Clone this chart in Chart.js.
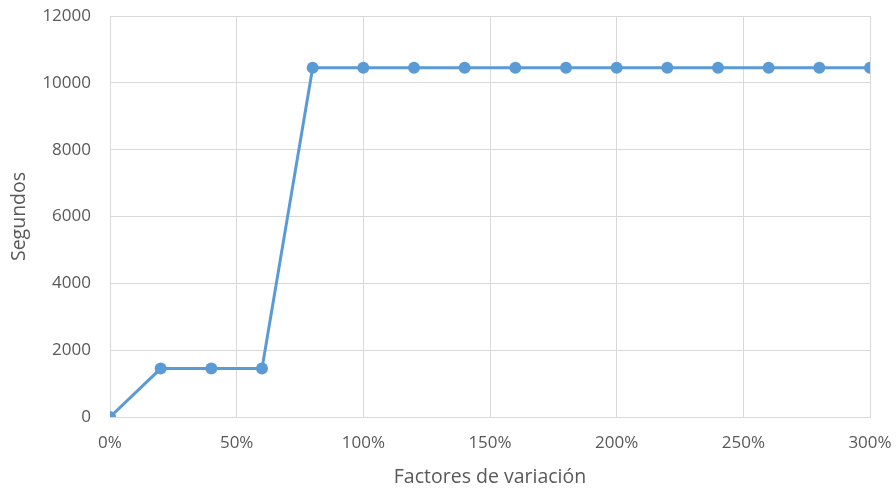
<!DOCTYPE html>
<html>
<head>
<meta charset="utf-8">
<script src="https://cdn.jsdelivr.net/npm/chart.js@4"></script>
<style>
  html, body { margin: 0; padding: 0; background: #ffffff; }
  #wrap { width: 896px; height: 489px; position: relative; }
</style>
</head>
<body>
<div id="wrap"><canvas id="c"></canvas></div>
<script>
// Variation factors (as fractions) and measured time in seconds
const factores = [0, 0.2, 0.4, 0.6, 0.8, 1.0, 1.2, 1.4, 1.6, 1.8, 2.0, 2.2, 2.4, 2.6, 2.8, 3.0];
const segundos = [0, 1450, 1450, 1450, 10450, 10450, 10450, 10450, 10450, 10450, 10450, 10450, 10450, 10450, 10450, 10450];
const yTicks = [0, 2000, 4000, 6000, 8000, 10000, 12000];
const xTicks = [0, 0.5, 1.0, 1.5, 2.0, 2.5, 3.0];

const puntos = factores.map((f, i) => ({ x: f, y: segundos[i] }));
const fontFamily = "'Open Sans', 'Noto Sans', sans-serif";
const grey = '#595959';
const grid = '#d9d9d9';

new Chart(document.getElementById('c'), {
  type: 'line',
  data: {
    datasets: [{
      data: puntos,
      borderColor: '#5b9bd5',
      backgroundColor: '#5b9bd5',
      borderWidth: 3,
      pointRadius: 6,
      pointHoverRadius: 6,
      pointBorderWidth: 0,
      tension: 0
    }]
  },
  options: {
    responsive: true,
    maintainAspectRatio: false,
    animation: false,
    layout: { autoPadding: false, padding: { left: 8, right: 26, top: 16, bottom: 0 } },
    plugins: { legend: { display: false }, tooltip: { enabled: false } },
    scales: {
      x: {
        type: 'linear',
        min: 0,
        max: 3,
        afterBuildTicks: s => { s.ticks = xTicks.map(v => ({ value: v })); },
        ticks: {
          callback: v => Math.round(v * 100) + '%',
          color: grey,
          font: { family: fontFamily, size: 17 },
          padding: 16,
          maxRotation: 0
        },
        grid: { color: grid, lineWidth: 1, drawTicks: false },
        border: { color: grid, width: 1 },
        title: {
          display: true,
          text: 'Factores de variación',
          color: grey,
          font: { family: fontFamily, size: 19.5 },
          padding: { top: 4, bottom: 0 }
        },
        // keep the plot area fixed; labels may sit in the outer margin
        afterFit: s => { s.height = 72; s.paddingLeft = 0; s.paddingRight = 0; }
      },
      y: {
        min: 0,
        max: 12000,
        afterBuildTicks: s => { s.ticks = yTicks.map(v => ({ value: v })); },
        ticks: {
          callback: v => String(v),
          color: grey,
          font: { family: fontFamily, size: 17 },
          padding: 19
        },
        grid: { color: grid, lineWidth: 1, drawTicks: false },
        border: { color: grid, width: 1 },
        title: {
          display: true,
          text: 'Segundos',
          color: grey,
          font: { family: fontFamily, size: 19.5 },
          padding: { top: 0, bottom: 4 }
        },
        afterFit: s => { s.width = 102; s.paddingTop = 0; s.paddingBottom = 0; }
      }
    }
  }
});
</script>
</body>
</html>
